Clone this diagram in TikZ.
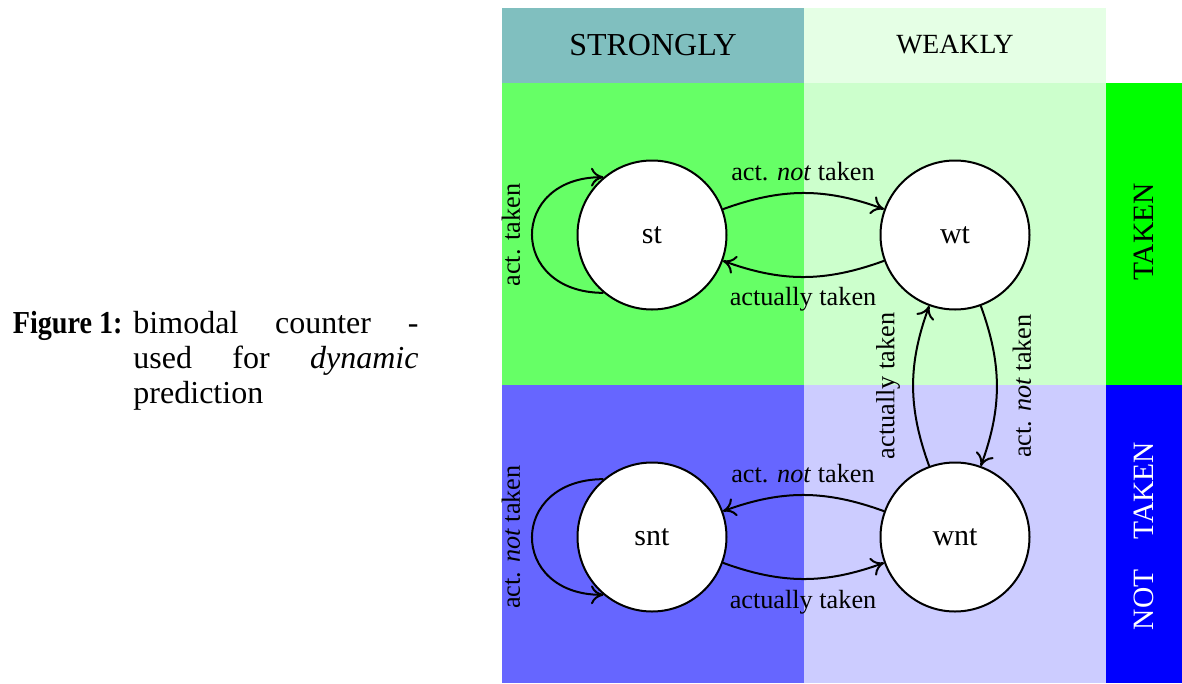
\documentclass[tikz,border=0pt]{standalone}
\usepackage{fontspec}
\setmainfont{Liberation Serif}
\usetikzlibrary{arrows.meta}
\begin{document}
\begin{tikzpicture}[x=0.4pt,y=0.4pt,
  state/.style={circle, draw, fill=white, line width=0.8pt,
    minimum size=59.6pt, inner sep=0pt, font=\fontsize{12}{14}\selectfont},
  trans/.style={-{To[length=5pt,width=7.5pt]}, line width=0.8pt},
  lbl/.style={inner sep=0pt, font=\fontsize{10.5}{12}\selectfont},
  head/.style={inner sep=0pt, font=\fontsize{12.8}{15}\selectfont},
  side/.style={inner sep=0pt, rotate=90, font=\fontsize{11.8}{14}\selectfont},
  capt/.style={inner sep=0pt, font=\fontsize{12.8}{15}\selectfont}]

\useasboundingbox (0,0) rectangle (1182,683);

% header row
\fill[teal!50]  (502,600) rectangle (804,675);
\fill[green!10] (804,600) rectangle (1106,675);
% taken row
\fill[green!60] (502,298) rectangle (804,600);
\fill[green!20] (804,298) rectangle (1106,600);
\fill[green]    (1106,298) rectangle (1182,600);
% not taken row
\fill[blue!60]  (502,0) rectangle (804,298);
\fill[blue!20]  (804,0) rectangle (1106,298);
\fill[blue]     (1106,0) rectangle (1182,298);

% row and column headings
\node[head] (hstrong) at (653,638) {STRONGLY};
\node[head, font=\fontsize{11.1}{13}\selectfont] (hweak) at (955,638) {WEAKLY};
\node[side] (htaken)  at (1144,451) {TAKEN};
\node[side, text=white] (hnot) at (1144,147) {NOT\hspace{9pt} TAKEN};

% states
\node[state] (st)  at (652,448) {st};
\node[state] (wt)  at (955,448) {wt};
\node[state] (snt) at (652,146) {snt};
\node[state] (wnt) at (955,146) {wnt};

% transitions
\draw[trans] (st) to[bend left=20] (wt);
\draw[trans] (wt) to[bend left=20] (st);
\draw[trans] (wnt) to[bend right=20] (snt);
\draw[trans] (snt) to[bend right=20] (wnt);
\draw[trans] (wt) to[bend left=20] (wnt);
\draw[trans] (wnt) to[bend left=20] (wt);
\draw[trans] (st.230) .. controls +(-95,0) and +(-95,0) .. (st.130);
\draw[trans] (snt.130) .. controls +(-95,0) and +(-95,0) .. (snt.230);

% transition labels
\node[lbl] (l1) at (803,511) {act. \textit{not} taken};
\node[lbl] (l2) at (803,384) {actually taken};
\node[lbl] (l3) at (803,209) {act. \textit{not} taken};
\node[lbl] (l4) at (803,81)  {actually taken};
\node[lbl, rotate=90] (l5) at (511,448) {act. taken};
\node[lbl, rotate=90] (l6) at (511,146) {act. \textit{not} taken};
\node[lbl, rotate=90] (l7) at (888,297) {actually taken};
\node[lbl, rotate=90] (l8) at (1022,297) {act. \textit{not} taken};

% caption
\node[capt, anchor=base east, xscale=0.88] (cfig) at (123,350) {\bfseries Figure 1:};
\node[capt, anchor=base west] (c1) at (133,350) {\makebox[114pt][s]{bimodal counter -}};
\node[capt, anchor=base west] (c2) at (133,315) {\makebox[114pt][s]{used for \textit{dynamic}}};
\node[capt, anchor=base west] (c3) at (133,280) {prediction};
\end{tikzpicture}
\end{document}
